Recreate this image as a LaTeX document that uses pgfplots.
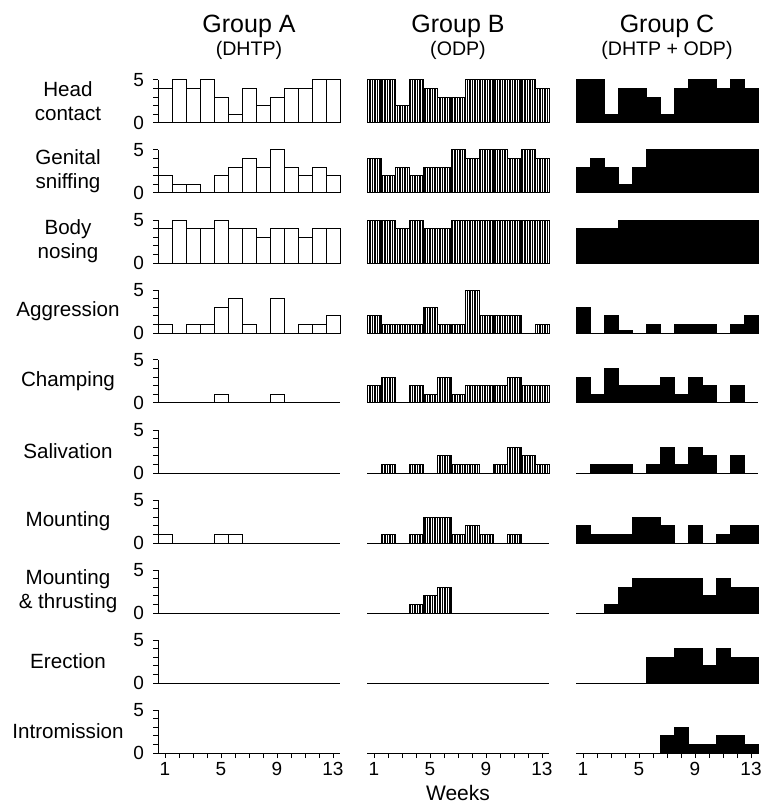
\documentclass[border=0pt]{standalone}
\usepackage{fontspec}
\setmainfont{Liberation Sans}
\usepackage{pgfplots}
\pgfplotsset{compat=1.18}
\usepgfplotslibrary{groupplots}
\usetikzlibrary{patterns.meta}

\pgfplotsset{
  panel/.style={
    scale only axis, width=91pt, height=21.5pt,
    xmin=0.5, xmax=13.5, ymin=0, ymax=5,
    axis x line*=bottom,
    axis line style={-, line width=0.5pt},
    xtick=\empty, ytick=\empty,
    ybar, bar width=1, bar shift=0pt,
    clip=false,
    /pgf/number format/assume math mode=true,
    tick label style={font=\fontsize{9.5}{11}\selectfont},
    tick align=outside,
    major tick length=2.5pt, minor tick length=2.5pt,
    every tick/.style={line width=0.5pt, black},
  },
  colA/.style={axis y line*=left, ytick={0,5}, minor ytick={1,2,3,4},
    yticklabel style={xshift=-1pt}},
  colB/.style={axis y line=none},
  bottomrow/.style={xtick={1,5,9,13}, minor xtick={2,3,4,6,7,8,10,11,12},
    xticklabel style={yshift=1.5pt}},
  barA/.style={draw=black, fill=white, line width=0.5pt},
  barB/.style={draw=black, line width=0.5pt, pattern={Lines[angle=90,distance=1.25pt,line width=0.55pt]}},
  barC/.style={draw=black, fill=black, line width=0.5pt},
}

\begin{document}
\begin{tikzpicture}
\begin{groupplot}[group style={group size=3 by 10, horizontal sep=13.5pt, vertical sep=13.5pt}, panel]
% ---- Head contact
\nextgroupplot[colA]
\addplot[barA] coordinates {(1,4)(2,5)(3,4)(4,5)(5,3)(6,1)(7,4)(8,2)(9,3)(10,4)(11,4)(12,5)(13,5)};
\nextgroupplot[colB]
\addplot[barB] coordinates {(1,5)(2,5)(3,2)(4,5)(5,4)(6,3)(7,3)(8,5)(9,5)(10,5)(11,5)(12,5)(13,4)};
\nextgroupplot[colB]
\addplot[barC] coordinates {(1,5)(2,5)(3,1)(4,4)(5,4)(6,3)(7,1)(8,4)(9,5)(10,5)(11,4)(12,5)(13,4)};
% ---- Genital sniffing
\nextgroupplot[colA]
\addplot[barA] coordinates {(1,2)(2,1)(3,1)(5,2)(6,3)(7,4)(8,3)(9,5)(10,3)(11,2)(12,3)(13,2)};
\nextgroupplot[colB]
\addplot[barB] coordinates {(1,4)(2,2)(3,3)(4,2)(5,3)(6,3)(7,5)(8,4)(9,5)(10,5)(11,4)(12,5)(13,4)};
\nextgroupplot[colB]
\addplot[barC] coordinates {(1,3)(2,4)(3,3)(4,1)(5,3)(6,5)(7,5)(8,5)(9,5)(10,5)(11,5)(12,5)(13,5)};
% ---- Body nosing
\nextgroupplot[colA]
\addplot[barA] coordinates {(1,4)(2,5)(3,4)(4,4)(5,5)(6,4)(7,4)(8,3)(9,4)(10,4)(11,3)(12,4)(13,4)};
\nextgroupplot[colB]
\addplot[barB] coordinates {(1,5)(2,5)(3,4)(4,5)(5,4)(6,4)(7,5)(8,5)(9,5)(10,5)(11,5)(12,5)(13,5)};
\nextgroupplot[colB]
\addplot[barC] coordinates {(1,4)(2,4)(3,4)(4,5)(5,5)(6,5)(7,5)(8,5)(9,5)(10,5)(11,5)(12,5)(13,5)};
% ---- Aggression
\nextgroupplot[colA]
\addplot[barA] coordinates {(1,1)(3,1)(4,1)(5,3)(6,4)(7,1)(9,4)(11,1)(12,1)(13,2)};
\nextgroupplot[colB]
\addplot[barB] coordinates {(1,2)(2,1)(3,1)(4,1)(5,3)(6,1)(7,1)(8,5)(9,2)(10,2)(11,2)(13,1)};
\nextgroupplot[colB]
\addplot[barC] coordinates {(1,3)(3,2)(4,0.3)(6,1)(8,1)(9,1)(10,1)(12,1)(13,2)};
% ---- Champing
\nextgroupplot[colA]
\addplot[barA] coordinates {(5,1)(9,1)};
\nextgroupplot[colB]
\addplot[barB] coordinates {(1,2)(2,3)(4,2)(5,1)(6,3)(7,1)(8,2)(9,2)(10,2)(11,3)(12,2)(13,2)};
\nextgroupplot[colB]
\addplot[barC] coordinates {(1,3)(2,1)(3,4)(4,2)(5,2)(6,2)(7,3)(8,1)(9,3)(10,2)(12,2)};
% ---- Salivation
\nextgroupplot[colA]
\nextgroupplot[colB]
\addplot[barB] coordinates {(2,1)(4,1)(6,2)(7,1)(8,1)(10,1)(11,3)(12,2)(13,1)};
\nextgroupplot[colB]
\addplot[barC] coordinates {(2,1)(3,1)(4,1)(6,1)(7,3)(8,1)(9,3)(10,2)(12,2)};
% ---- Mounting
\nextgroupplot[colA]
\addplot[barA] coordinates {(1,1)(5,1)(6,1)};
\nextgroupplot[colB]
\addplot[barB] coordinates {(2,1)(4,1)(5,3)(6,3)(7,1)(8,2)(9,1)(11,1)};
\nextgroupplot[colB]
\addplot[barC] coordinates {(1,2)(2,1)(3,1)(4,1)(5,3)(6,3)(7,2)(9,2)(11,1)(12,2)(13,2)};
% ---- Mounting & thrusting
\nextgroupplot[colA]
\nextgroupplot[colB]
\addplot[barB] coordinates {(4,1)(5,2)(6,3)};
\nextgroupplot[colB]
\addplot[barC] coordinates {(3,1)(4,3)(5,4)(6,4)(7,4)(8,4)(9,4)(10,2)(11,4)(12,3)(13,3)};
% ---- Erection
\nextgroupplot[colA]
\nextgroupplot[colB]
\nextgroupplot[colB]
\addplot[barC] coordinates {(6,3)(7,3)(8,4)(9,4)(10,2)(11,4)(12,3)(13,3)};
% ---- Intromission
\nextgroupplot[colA, bottomrow]
\nextgroupplot[colB, bottomrow]
\nextgroupplot[colB, bottomrow]
\addplot[barC] coordinates {(7,2)(8,3)(9,1)(10,1)(11,2)(12,2)(13,1)};
\end{groupplot}

% page frame (invisible)
\path ([xshift=-79pt,yshift=40pt]group c1r1.north west) rectangle ([xshift=301pt,yshift=-361.5pt]group c1r1.north west);

% row labels
\begin{scope}[every node/.style={align=center, font=\fontsize{10.3}{12}\selectfont}]
\node[xshift=-45pt] at (group c1r1.west) {Head\\contact};
\node[xshift=-45pt] at (group c1r2.west) {Genital\\sniffing};
\node[xshift=-45pt] at (group c1r3.west) {Body\\nosing};
\node[xshift=-45pt] at (group c1r4.west) {Aggression};
\node[xshift=-45pt] at (group c1r5.west) {Champing};
\node[xshift=-45pt] at (group c1r6.west) {Salivation};
\node[xshift=-45pt] at (group c1r7.west) {Mounting};
\node[xshift=-45pt] at (group c1r8.west) {Mounting\\\& thrusting};
\node[xshift=-45pt] at (group c1r9.west) {Erection};
\node[xshift=-45pt] at (group c1r10.west) {Intromission};
\end{scope}

% titles
\node[font=\fontsize{12.5}{15}\selectfont] at ([yshift=27pt]group c1r1.north) {Group A};
\node[font=\fontsize{12.5}{15}\selectfont] at ([yshift=27pt]group c2r1.north) {Group B};
\node[font=\fontsize{12.5}{15}\selectfont] at ([yshift=27pt]group c3r1.north) {Group C};
\node[font=\fontsize{9.8}{11}\selectfont] at ([yshift=15pt]group c1r1.north) {(DHTP)};
\node[font=\fontsize{9.8}{11}\selectfont] at ([yshift=15pt]group c2r1.north) {(ODP)};
\node[font=\fontsize{9.8}{11}\selectfont] at ([yshift=15pt]group c3r1.north) {(DHTP + ODP)};

\node[font=\fontsize{10.5}{12}\selectfont, inner sep=0pt] at ([yshift=-20pt]group c2r10.south) {Weeks};
\end{tikzpicture}
\end{document}
